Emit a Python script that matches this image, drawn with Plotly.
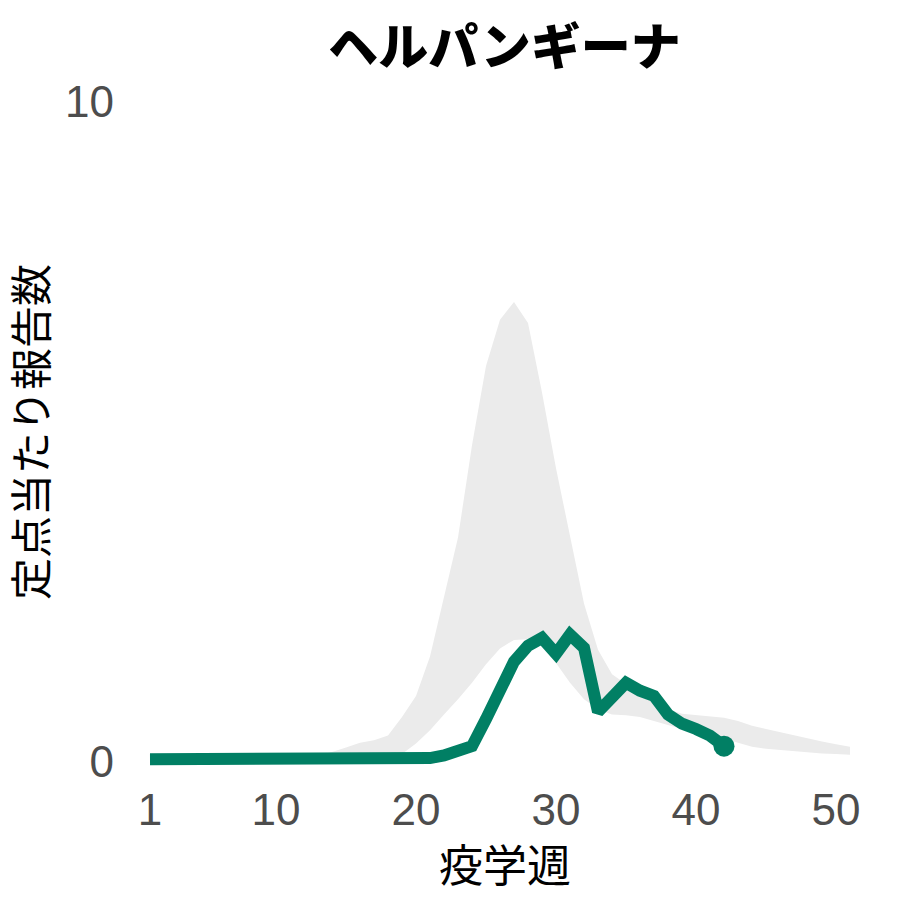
"""
Herpangina weekly report chart: current season vs past-years range.
"""

import plotly.graph_objects as go

# epidemiological weeks
weeks_band = list(range(1, 52))
weeks_now = list(range(1, 43))

# past-years range (lower / upper edge of the grey band)
band_lower = [
    0.00, 0.00, 0.00, 0.00, 0.00, 0.00, 0.00, 0.00, 0.00, 0.00,
    0.00, 0.00, 0.00, 0.00, 0.00, 0.00, 0.01, 0.03, 0.12, 0.28,
    0.48, 0.72, 0.95, 1.20, 1.48, 1.72, 1.85, 1.86, 1.75, 1.50,
    1.20, 0.95, 0.80, 0.72, 0.71, 0.68, 0.62, 0.55, 0.50, 0.45,
    0.40, 0.36, 0.29, 0.23, 0.20, 0.18, 0.16, 0.14, 0.13, 0.12,
    0.11,
]
band_upper = [
    0.03, 0.03, 0.03, 0.03, 0.03, 0.03, 0.03, 0.04, 0.04, 0.04,
    0.05, 0.06, 0.10, 0.15, 0.22, 0.29, 0.33, 0.40, 0.68, 1.00,
    1.60, 2.50, 3.40, 4.80, 6.00, 6.70, 6.97, 6.65, 5.60, 4.45,
    3.40, 2.40, 1.70, 1.33, 1.18, 1.10, 0.95, 0.80, 0.73, 0.71,
    0.69, 0.67, 0.62, 0.55, 0.50, 0.45, 0.40, 0.35, 0.31, 0.27,
    0.23,
]

# this season
reports_now = [
    0.04, 0.04, 0.04, 0.04, 0.05, 0.04, 0.04, 0.04, 0.05, 0.05,
    0.05, 0.04, 0.04, 0.05, 0.05, 0.05, 0.06, 0.05, 0.05, 0.05,
    0.06, 0.10, 0.17, 0.24, 0.65, 1.10, 1.52, 1.76, 1.88, 1.64,
    1.93, 1.73, 0.76, 0.98, 1.20, 1.08, 1.00, 0.72, 0.58, 0.50,
    0.40, 0.24,
]

x_ticks = [1, 10, 20, 30, 40, 50]
y_ticks = [0, 10]

GREEN = "#017F64"
GREY = "#EBEBEB"
CJK = "Noto Sans CJK JP"
TICK_FONT = dict(family="Liberation Sans", size=44, color="#4D4D4D")

fig = go.Figure()

fig.add_trace(go.Scatter(
    x=weeks_band, y=band_lower,
    mode="lines", line=dict(width=0, color=GREY),
    hoverinfo="skip", showlegend=False,
))
fig.add_trace(go.Scatter(
    x=weeks_band, y=band_upper,
    mode="lines", line=dict(width=0, color=GREY),
    fill="tonexty", fillcolor=GREY,
    hoverinfo="skip", showlegend=False,
))
fig.add_trace(go.Scatter(
    x=weeks_now, y=reports_now,
    mode="lines", line=dict(width=12, color=GREEN),
    showlegend=False,
))
# marker on the latest week
fig.add_trace(go.Scatter(
    x=weeks_now[-1:], y=reports_now[-1:],
    mode="markers", marker=dict(size=21, color=GREEN),
    showlegend=False,
))

# the page body adds an 8px offset, so the margins are shifted to compensate
fig.update_layout(
    width=900, height=900,
    margin=dict(l=107, r=23, t=61, b=113),
    paper_bgcolor="white",
    plot_bgcolor="white",
    title=dict(
        text="ヘルパンギーナ",
        font=dict(family=CJK, size=50, color="black", weight=900),
        x=0.506, xref="paper", xanchor="center",
        y=0.956, yref="container", yanchor="middle",
    ),
)
fig.update_xaxes(
    range=[-1.5, 53.5],
    tickvals=x_ticks,
    ticks="", showgrid=False, zeroline=False, showline=False,
    tickfont=TICK_FONT, automargin=False, ticklabelstandoff=-15,
)
fig.update_yaxes(
    range=[-0.5, 10.5],
    tickvals=y_ticks,
    ticks="", showgrid=False, zeroline=False, showline=False,
    tickfont=TICK_FONT, automargin=False,
)

# axis titles placed as annotations
fig.add_annotation(
    text="疫学週", showarrow=False,
    xref="paper", yref="paper", x=0.506, y=0,
    xanchor="center", yanchor="middle", yshift=-68,
    font=dict(family=CJK, size=44, color="black"),
)
fig.add_annotation(
    text="定点当たり報告数", showarrow=False,
    xref="paper", yref="paper", x=0, y=0.5,
    xanchor="center", yanchor="middle", xshift=-87,
    textangle=-90,
    font=dict(family=CJK, size=42, color="black"),
)

fig.write_html("out.html")
